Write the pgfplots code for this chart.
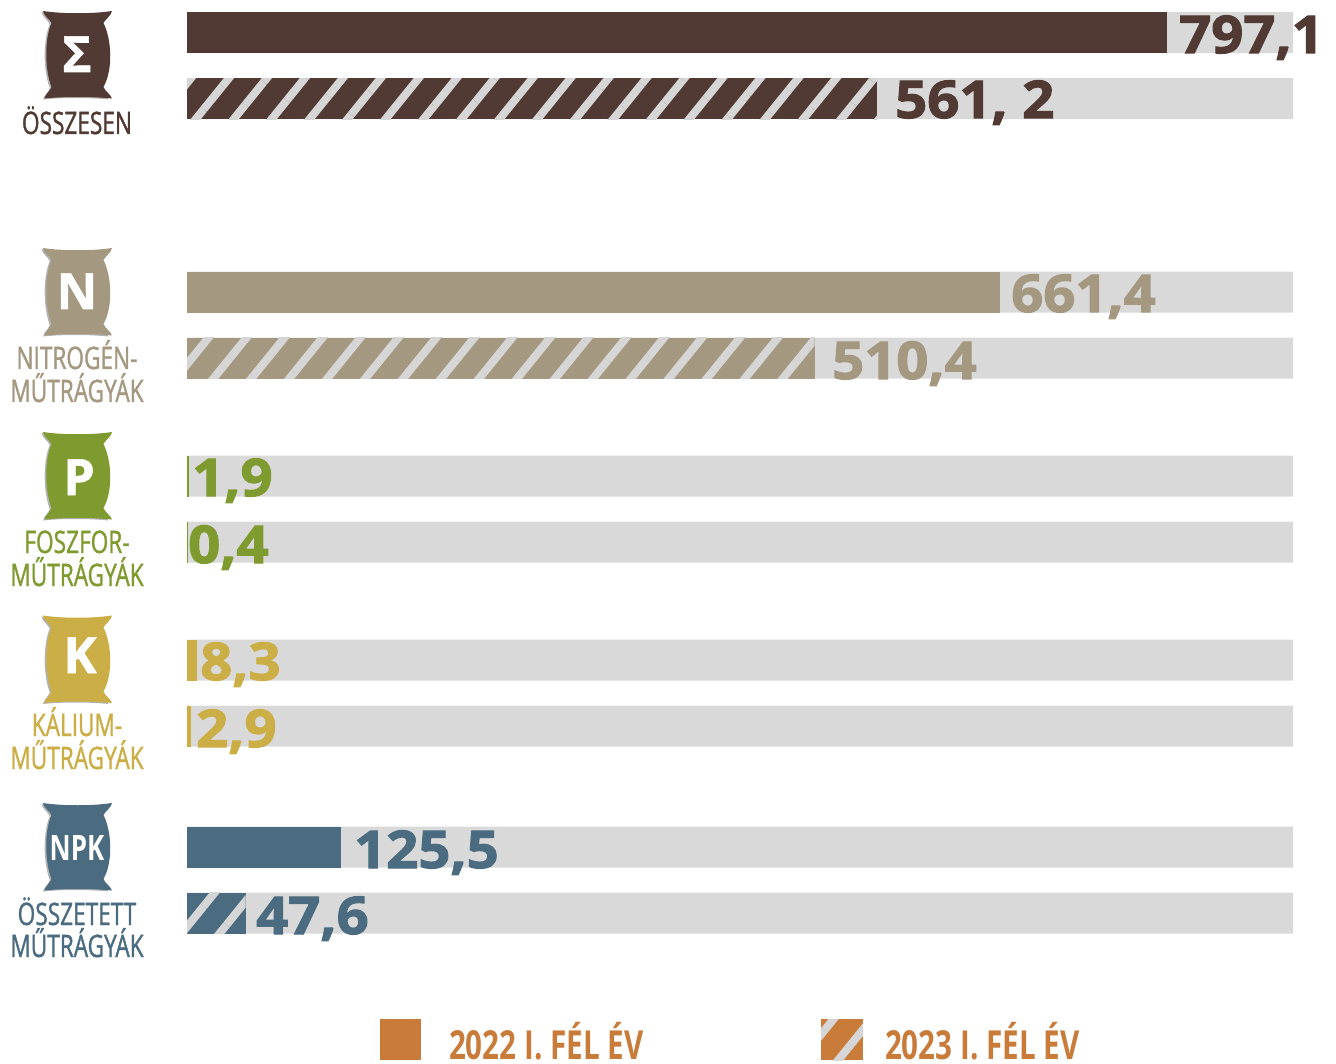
\documentclass[border=0pt]{standalone}
\usepackage{fontspec}
\usepackage{pgfplots}
\pgfplotsset{compat=1.18}
\usetikzlibrary{patterns.meta}
\setmainfont{Open Sans}
\newfontfamily\valfont[FakeBold=2.2,FakeStretch=1.08]{Open Sans Bold}
\newfontfamily\letfont[FakeBold=1.2]{Open Sans Bold}
\newfontfamily\condfont[FakeStretch=0.73,FakeBold=1.1]{Open Sans}
\newfontfamily\condbold[FakeStretch=0.74]{Open Sans Bold}
\definecolor{cbrown}{HTML}{513A34}
\definecolor{ctan}{HTML}{A59880}
\definecolor{cgreen}{HTML}{7F9B30}
\definecolor{cgold}{HTML}{CBAE45}
\definecolor{cblue}{HTML}{4A6B80}
\definecolor{corange}{HTML}{C97B3A}
\definecolor{cgrey}{HTML}{D9D9D9}
\definecolor{cstripe}{HTML}{D6D6D6}
\tikzset{
  stripes/.style={pattern={Lines[angle=51,distance=29.5pt,line width=8pt]},pattern color=cstripe},
  hatched/.style={preaction={fill=#1,draw=none},stripes},
}
% sack icon: centre x, top y, colour
\newcommand{\sackpath}{%
  (-34.5,0) .. controls (-15,3) and (15,3) .. (34.5,0)
  .. controls (33.5,5) and (28,8) .. (26,12)
  .. controls (34,28) and (36,58) .. (26,76)
  .. controls (28,81) and (33,83) .. (34.5,87.5)
  .. controls (15,85.5) and (-15,85.5) .. (-33,87.5)
  .. controls (-32,83) and (-28,81) .. (-26,76)
  .. controls (-33,58) and (-33,28) .. (-26,12)
  .. controls (-28,8) and (-33.5,5) .. (-34.5,0) -- cycle}
\newcommand{\sack}[3]{%
  \fill[black!30,shift={(#1-2.5,#2+1)}] [xscale=0.97] \sackpath;
  \fill[#3,shift={(#1,#2)}] \sackpath;
}
\newcommand{\vlab}[4]{\node[anchor=base west,inner sep=0pt,text=#3,font=\valfont\fontsize{52}{52}\selectfont] at (#1,#2) {#4};}
\newcommand{\clab}[3]{\node[anchor=base,inner sep=0pt,text=#2,font=\condfont\fontsize{31}{31}\selectfont] at (77,#1) {#3};}
\newcommand{\ilet}[3]{\node[anchor=base,inner sep=0pt,text=white,font=\letfont\fontsize{50}{50}\selectfont] at (#1,#2) {#3};}

\begin{document}
\begin{tikzpicture}[x=1pt,y=-1pt]
\path[use as bounding box] (0,0) rectangle (1336,1064);
\begin{axis}[
    at={(0,0)},anchor=north west,
    scale only axis,width=1336pt,height=1064pt,
    xmin=-152.1,xmax=934.5,
    ymin=0,ymax=1064,y dir=reverse,
    xbar,bar width=41pt,bar shift=0pt,
    hide axis,clip=false,
    legend columns=2,
    legend style={draw=none,fill=none,inner sep=0pt,outer sep=0pt,
      at={(380/1336,1-1040/1064)},anchor=west,
      nodes={inner sep=0pt,anchor=base west},
      /tikz/column 1/.style={column sep=28pt},
      /tikz/column 2/.style={column sep=180pt},
      /tikz/column 3/.style={column sep=22pt},
      font=\condbold\fontsize{40}{40}\selectfont,text=corange},
]
% grey tracks
\addplot[fill=cgrey,draw=none,forget plot] coordinates {
  (899.5,32.5) (899.5,98.5) (899.5,292) (899.5,358) (899.5,476)
  (899.5,542) (899.5,660) (899.5,726) (899.5,847) (899.5,913)};
% 2022 first half
\addplot[fill=cbrown,draw=none,forget plot] coordinates {(797.1,32.5)};
\addplot[fill=ctan,draw=none,forget plot] coordinates {(661.4,292)};
\addplot[fill=cgreen,draw=none,forget plot] coordinates {(1.9,476)};
\addplot[fill=cgold,draw=none,forget plot] coordinates {(8.3,660)};
\addplot[fill=cblue,draw=none,forget plot] coordinates {(125.5,847)};
% 2023 first half
\addplot[hatched=cbrown,draw=none,forget plot] coordinates {(561.2,98.5)};
\addplot[hatched=ctan,draw=none,forget plot] coordinates {(510.4,358)};
\addplot[fill=cgreen,draw=none,forget plot] coordinates {(0.4,542)};
\addplot[fill=cgold,draw=none,forget plot] coordinates {(2.9,726)};
\addplot[hatched=cblue,draw=none,forget plot] coordinates {(47.6,913)};
\addlegendimage{legend image code/.code={\fill[corange,draw=none] (0pt,-1pt) rectangle (41pt,40pt);}}
\addlegendentry{\makebox[192pt][l]{2022 I. FÉL ÉV}}
\addlegendimage{legend image code/.code={\fill[corange,draw=none] (0pt,-1pt) rectangle (42pt,40pt);
  \path[stripes,draw=none] (0pt,-1pt) rectangle (42pt,40pt);}}
\addlegendentry{\makebox[192pt][l]{2023 I. FÉL ÉV}}
\end{axis}
% value labels
\vlab{1179}{53}{cbrown}{797,1}
\vlab{895}{118}{cbrown}{561, 2}
\vlab{1011}{312}{ctan}{661,4}
\vlab{832}{379}{ctan}{510,4}
\vlab{192}{496}{cgreen}{1,9}
\vlab{188}{563}{cgreen}{0,4}
\vlab{200}{680}{cgold}{8,3}
\vlab{196}{747}{cgold}{2,9}
\vlab{354}{868}{cblue}{125,5}
\vlab{256}{934}{cblue}{47,6}
% sacks and names
\sack{77.5}{11}{cbrown}
\sack{77.5}{248}{ctan}
\sack{77.5}{432}{cgreen}
\sack{77.5}{615.5}{cgold}
\sack{77.5}{803}{cblue}
\ilet{77}{72}{Σ}
\ilet{77}{309}{N}
\ilet{79}{495}{P}
\ilet{80}{673}{K}
\node[anchor=base,inner sep=0pt,text=white,font=\condbold\fontsize{35}{35}\selectfont] at (77,860) {NPK};
\clab{134}{cbrown}{ÖSSZESEN}
\clab{369}{ctan}{NITROGÉN-}
\clab{402}{ctan}{MŰTRÁGYÁK}
\clab{553}{cgreen}{FOSZFOR-}
\clab{586}{cgreen}{MŰTRÁGYÁK}
\clab{736}{cgold}{KÁLIUM-}
\clab{769}{cgold}{MŰTRÁGYÁK}
\clab{925}{cblue}{ÖSSZETETT}
\clab{957}{cblue}{MŰTRÁGYÁK}
\end{tikzpicture}
\end{document}
